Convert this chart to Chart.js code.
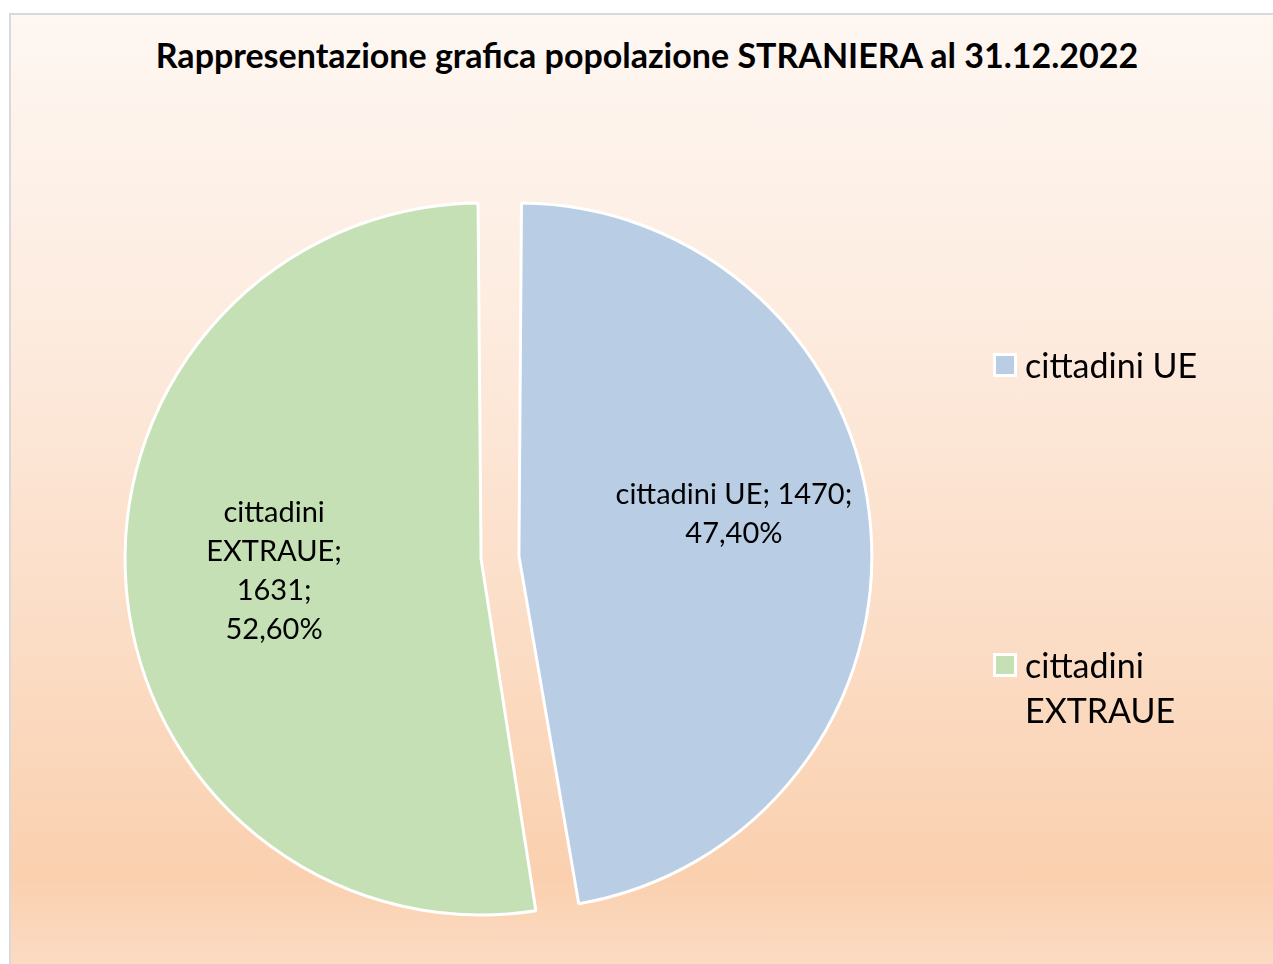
<!DOCTYPE html>
<html lang="it">
<head>
<meta charset="utf-8">
<title>Popolazione straniera al 31.12.2022</title>
<script src="https://cdn.jsdelivr.net/npm/chart.js@4.4.1/dist/chart.umd.min.js"></script>
<style>
    html, body { margin: 0; padding: 0; background: #ffffff; overflow: hidden; }
    body { width: 1273px; height: 964px; position: relative; font-family: Lato, 'Open Sans', sans-serif; }

    /* riquadro del grafico con sfumatura pesca */
    #riquadro {
        position: absolute; left: 9px; top: 13px;
        width: 1272px; height: 980px;
        border: 2px solid #d9d9d9;
        background: linear-gradient(to bottom, #fef7f2 0%, #fdece0 30%, #fbdcc4 65%, #fad0af 88%, #fcdfca 100%);
    }
    #titolo {
        position: absolute; left: 0; top: 19px; width: 100%;
        text-align: center; font-weight: bold; font-size: 34px; color: #000;
    }
    #grafico { position: absolute; left: 0; top: 0; }

    #legenda { position: absolute; left: 982px; top: 327px; }
    .voce { display: flex; align-items: flex-start; font-size: 34px; line-height: 45px; color: #000; }
    .voce + .voce { margin-top: 255px; }
    .quadratino {
        width: 18px; height: 18px; border: 3px solid #ffffff;
        margin-top: 11px; margin-right: 8px; flex: none;
    }
    .voce span.testo { max-width: 200px; }
</style>
</head>
<body>
<div id="riquadro">
    <div id="titolo">Rappresentazione grafica popolazione STRANIERA al 31.12.2022</div>
    <canvas id="grafico" width="1272" height="980"></canvas>
    <div id="legenda"></div>
</div>

<script>
// ============================================
// DATI
// ============================================
const categorie = ['cittadini UE', 'cittadini EXTRAUE'];
const residenti = [1470, 1631];
const coloriFette = ['#b9cde5', '#c5e0b4'];

// larghezza massima di ogni etichetta (per andare a capo come nell'originale)
const larghezzeEtichette = [260, 150];
// piccolo aggiustamento della posizione delle etichette (come in Excel)
const ritocchiEtichette = [{ dx: 0, dy: -24 }, { dx: 8, dy: -5 }];

/**
 * Percentuale in formato italiano (47,40%)
 */
function percentuale(valore, totale) {
    return (valore / totale * 100).toFixed(2).replace('.', ',') + '%';
}

/**
 * Spezza il testo in righe che non superano la larghezza indicata
 */
function spezza(ctx, testo, larghezza) {
    const parole = testo.split(' ');
    const righe = [];
    let riga = '';
    parole.forEach(parola => {
        const prova = riga ? riga + ' ' + parola : parola;
        if (riga && ctx.measureText(prova).width > larghezza) {
            righe.push(riga);
            riga = parola;
        } else {
            riga = prova;
        }
    });
    if (riga) righe.push(riga);
    return righe;
}

// Etichette dentro le fette: "categoria; valore; percentuale"
const etichettePlugin = {
    id: 'etichette',
    afterDatasetsDraw(chart) {
        const ctx = chart.ctx;
        const dati = chart.data.datasets[0].data;
        const totale = dati.reduce((a, b) => a + b, 0);
        const meta = chart.getDatasetMeta(0);

        ctx.save();
        ctx.font = '29px Lato, "Open Sans", sans-serif';
        ctx.fillStyle = '#000000';
        ctx.textAlign = 'center';
        ctx.textBaseline = 'middle';

        meta.data.forEach((arco, i) => {
            const p = arco.getProps(['x', 'y', 'startAngle', 'endAngle', 'outerRadius'], true);
            const angolo = (p.startAngle + p.endAngle) / 2;
            const spostamento = (arco.options.offset || 0) / 4;
            const r = p.outerRadius * 0.64 + spostamento;
            const cx = p.x + Math.cos(angolo) * r + ritocchiEtichette[i].dx;
            const cy = p.y + Math.sin(angolo) * r + ritocchiEtichette[i].dy;

            const testo = `${chart.data.labels[i]}; ${dati[i]}; ${percentuale(dati[i], totale)}`;
            const righe = spezza(ctx, testo, larghezzeEtichette[i]);
            const interlinea = 39;
            const inizio = cy - (righe.length - 1) * interlinea / 2;
            righe.forEach((riga, k) => ctx.fillText(riga, cx, inizio + k * interlinea));
        });
        ctx.restore();
    }
};

const grafico = new Chart(document.getElementById('grafico').getContext('2d'), {
    type: 'pie',
    data: {
        labels: categorie,
        datasets: [{
            data: residenti,
            backgroundColor: coloriFette,
            borderColor: '#ffffff',
            borderWidth: 3,
            offset: 76,
            hoverOffset: 76
        }]
    },
    options: {
        responsive: false,
        animation: false,
        layout: {
            padding: { left: 89, right: 383, top: 166, bottom: 61 }
        },
        plugins: {
            legend: { display: false },
            title: { display: false },
            tooltip: { enabled: false }
        }
    },
    plugins: [etichettePlugin]
});

// Legenda HTML costruita dalle etichette del grafico
const legenda = document.getElementById('legenda');
grafico.options.plugins.legend.labels.generateLabels(grafico).forEach(voce => {
    const riga = document.createElement('div');
    riga.className = 'voce';
    const box = document.createElement('span');
    box.className = 'quadratino';
    box.style.background = voce.fillStyle;
    const testo = document.createElement('span');
    testo.className = 'testo';
    testo.textContent = voce.text;
    riga.appendChild(box);
    riga.appendChild(testo);
    legenda.appendChild(riga);
});
</script>
</body>
</html>
